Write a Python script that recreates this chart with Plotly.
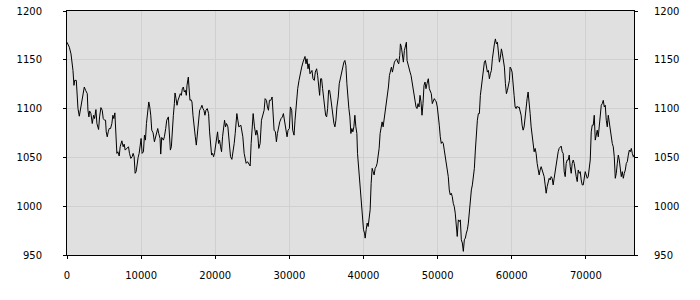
import plotly.graph_objects as go

x_vals = [0,135,314,538,673,807,942,1031,1256,1345,1480,1659,1838,2018,2152,2332,2511,2735,2825,2959,3049,3228,3408,3587,3722,3901,4036,4260,4394,4574,4753,4888,5067,5201,5291,5426,5560,5695,5874,6053,6188,6322,6457,6591,6726,6861,7040,7174,7399,7578,7712,7847,8071,8295,8430,8609,8789,8923,9058,9192,9327,9461,9596,9730,9865,9999,10134,10313,10448,10582,10717,10851,11031,11165,11300,11434,11614,11793,11927,12107,12241,12376,12555,12645,12779,13004,13138,13317,13452,13676,13811,13945,14080,14214,14349,14483,14573,14708,14842,14977,15156,15290,15425,15559,15694,15829,15963,16098,16187,16367,16456,16591,16725,16860,16994,17129,17308,17443,17577,17757,17892,18026,18205,18340,18474,18609,18743,18922,19102,19236,19371,19505,19640,19774,19909,20043,20178,20313,20447,20582,20716,20851,20985,21120,21254,21389,21523,21703,21882,22061,22241,22420,22555,22689,22779,22913,23048,23182,
23453,23588,23722,23901,24036,24170,24350,24485,24709,24843,24978,25112,25292,25471,25606,25740,25875,26054,26233,26413,26592,26727,26906,27041,27175,27310,27489,27668,27803,27937,28117,28251,28386,28520,28700,28879,29058,29193,29327,29507,29686,29821,30000,30135,30314,30448,30628,30762,30942,31121,31300,31480,31659,31838,31973,32107,32242,32377,32511,32646,32780,32915,33049,33184,33363,33498,33677,33811,33946,34080,34215,34349,34484,34619,34753,34888,35022,35157,35291,35426,35560,35695,35874,36009,36143,36278,36412,36591,36726,36905,37085,37219,37354,37488,37623,37757,37892,38026,38161,38296,38430,38565,38699,38834,38968,39103,39192,39327,39461,39596,39730,39865,39999,40134,40224,40358,40493,40627,40762,40896,41031,41165,41300,41434,41569,41703,41838,41972,42107,42241,42376,42510,42645,42779,42959,43093,43228,43362,43497,43631,43766,43901,44035,44170,44304,44483,44618,44752,44887,44977,45111,45246,45380,45515,45649,45784,45874,46008,46142,46277,46412,46546,46681,46815,46950,47084,47219,47353,47488,47622,47757,47892,48026,48161,48295,48430,48564,48743,48878,49012,49147,49281,49416,49550,49685,49819,49954,50088,50223,50357,50492,50627,50761,50896,51030,51165,51299,51434,51568,51703,51837,51972,52106,52241,52375,52510,52644,
52792,52927,53062,53197,53332,53467,53602,53737,53873,54008,54143,54278,54414,54549,54684,54819,54954,55090,55225,55360,55495,55630,55765,55901,56036,56171,56306,56441,56576,56711,56847,56982,57117,57252,57387,57522,57657,57793,57928,58063,58198,58333,58468,58603,58739,58874,59009,59144,59279,59414,59550,59685,59775,59910,60045,60180,60315,60451,60586,60721,60856,60991,61126,61261,61397,61532,61667,61802,61937,62072,62207,62343,62478,62613,62748,62883,63018,63153,63289,63424,63559,63694,63829,63964,64100,64235,64370,64505,64640,64775,64910,65046,65181,65316,65451,65586,65721,65856,65992,66127,66262,66397,66532,66667,66802,66938,67073,67208,67343,67478,67613,67749,67884,68019,68154,68289,68424,68560,68695,68830,68965,69100,69235,69370,69506,69641,69776,69911,70046,70181,70316,70452,70587,70722,70857,70992,71127,71262,71398,71533,71668,71803,71938,72073,72209,72344,72479,72614,72749,72884,73019,73155,73290,73425,73560,73695,73830,73966,74101,74236,74371,74506,74641,74776,74912,75047,75182,75317,75452,75587,75722,75858,75993,76128,76263,76398,76488]

y_vals = [1168.0,1166.3,1162.9,1156.1,1149.3,1139.1,1123.8,1128.9,1128.9,1110.2,1100.0,1092.2,1100.0,1105.1,1115.3,1122.1,1118.7,1115.3,1098.3,1091.5,1097.6,1094.9,1084.7,1093.2,1089.8,1099.0,1084.7,1078.6,1091.5,1101.0,1098.3,1089.8,1088.1,1088.1,1076.2,1071.1,1076.2,1079.6,1079.6,1084.7,1093.2,1089.8,1095.6,1071.1,1054.1,1055.8,1051.4,1060.9,1067.0,1060.9,1063.6,1057.5,1059.2,1060.9,1054.1,1049.0,1050.7,1054.1,1050.7,1033.7,1035.4,1043.9,1050.0,1054.1,1064.3,1069.4,1054.1,1055.8,1072.8,1067.7,1084.7,1094.9,1106.8,1101.7,1093.2,1077.9,1075.2,1066.0,1071.1,1074.5,1079.6,1074.5,1069.4,1053.4,1070.4,1067.7,1071.1,1079.6,1088.1,1091.5,1076.2,1057.5,1060.9,1081.3,1093.2,1105.1,1116.0,1110.2,1103.4,1108.5,1111.9,1115.3,1113.6,1120.4,1122.1,1117.0,1118.7,1113.6,1123.8,1132.3,1122.1,1108.5,1109.2,1106.8,1093.2,1081.3,1071.1,1062.6,1074.5,1083.0,1098.3,1100.0,1103.4,1100.0,1098.3,1093.2,1098.3,1100.0,1094.9,1076.2,1066.0,1052.4,1054.1,1050.7,1054.8,1062.6,1069.4,1076.2,1064.3,1067.7,1060.9,1055.8,1071.1,1079.6,1088.1,1081.3,1084.7,1081.3,1060.9,1050.7,1048.0,1055.8,1064.3,1074.5,1086.4,1094.9,1088.1,1081.3,
1083.0,1076.2,1071.1,1054.1,1049.0,1043.9,1045.6,1043.9,1041.2,1064.3,1088.1,1094.9,1081.3,1072.8,1077.9,1072.8,1059.2,1064.3,1088.1,1093.2,1098.3,1110.2,1108.5,1101.7,1098.3,1108.5,1108.5,1111.9,1098.3,1077.9,1076.2,1066.0,1074.5,1081.3,1086.4,1089.8,1091.5,1094.9,1088.1,1081.3,1071.1,1077.9,1079.6,1101.7,1098.3,1077.9,1072.8,1088.1,1108.5,1120.4,1128.9,1137.4,1142.5,1147.6,1151.0,1153.4,1145.9,1151.0,1140.8,1145.9,1135.7,1137.4,1139.1,1130.6,1128.9,1137.4,1140.8,1134.0,1123.8,1113.6,1130.6,1130.6,1120.4,1108.5,1101.7,1093.2,1091.5,1100.0,1118.7,1118.7,1111.9,1101.7,1093.2,1084.7,1081.3,1088.1,1101.7,1111.9,1125.5,1132.3,1139.1,1145.9,1147.6,1149.3,1144.2,1125.5,1108.5,1100.0,1091.5,1074.5,1079.6,1076.2,1081.3,1093.2,1081.3,1074.5,1054.1,1040.5,1037.1,1023.5,1006.5,989.5,975.9,972.4,967.3,975.9,982.7,979.2,989.5,996.3,1023.5,1038.8,1035.4,1032.0,1038.8,1040.5,1043.9,1050.7,1059.2,1074.5,1083.0,1086.4,1081.3,1088.1,1100.0,1108.5,1111.9,1122.1,1134.0,1139.1,1142.5,1137.4,1144.2,1147.6,1149.3,1151.0,1147.6,1145.9,1154.4,1166.3,1162.9,1156.1,1147.6,1159.5,1166.3,1168.0,1149.3,1144.2,1139.1,1137.4,1134.0,1127.2,1120.4,1111.9,1105.1,1101.7,1100.0,1105.1,1101.7,1113.6,1106.8,1093.2,1105.1,1123.8,1127.2,1120.4,1125.5,1130.6,1120.4,1117.0,1115.3,1105.1,1108.5,1110.2,1108.5,1106.8,1101.7,1094.9,1083.0,1071.1,1064.3,1066.0,1064.3,1057.5,1050.7,1042.2,1033.7,1030.3,1016.7,1011.6,1013.3,1009.9,1003.0,999.7,992.9,979.2,969.0,
986.0,984.3,986.0,965.6,962.3,953.7,965.6,967.3,972.4,975.9,982.7,992.9,1009.9,1016.7,1021.8,1030.3,1038.8,1057.5,1074.5,1088.1,1094.9,1094.9,1113.6,1122.1,1125.5,1139.1,1147.6,1149.3,1144.2,1137.4,1139.1,1130.6,1135.7,1139.1,1151.0,1161.2,1166.3,1171.4,1166.3,1168.0,1159.5,1147.6,1152.7,1161.2,1156.1,1151.0,1142.5,1125.5,1115.3,1118.7,1123.8,1128.9,1142.5,1140.8,1137.4,1118.7,1113.6,1101.7,1100.0,1102.4,1101.0,1101.7,1098.3,1093.2,1083.0,1077.9,1081.3,1093.2,1105.1,1110.2,1117.0,1108.5,1094.9,1081.3,1071.1,1064.3,1055.8,1059.2,1054.1,1043.9,1038.8,1032.0,1037.1,1040.5,1037.1,1033.7,1030.3,1021.8,1013.3,1020.1,1025.2,1028.6,1026.9,1030.3,1028.6,1021.8,1028.6,1035.4,1042.2,1052.4,1055.8,1059.2,1060.9,1061.6,1055.8,1054.1,1035.4,1030.3,1043.9,1047.3,1047.3,1052.4,1040.5,1033.7,1043.9,1047.3,1043.9,1035.4,1030.3,1025.2,1037.1,1033.7,1035.4,1026.9,1021.8,1021.8,1026.9,1035.4,1032.0,1028.6,1030.3,1037.1,1047.3,1076.2,1083.0,1083.0,1093.2,1067.7,1074.5,1077.9,1071.1,1083.0,1094.9,1103.4,1105.1,1108.5,1101.7,1103.4,1088.1,1081.3,1093.2,1084.7,1079.6,1071.1,1064.3,1060.9,1050.7,1028.6,1033.7,1043.9,1052.4,1047.3,1038.8,1030.3,1035.4,1028.6,1033.7,1037.1,1043.9,1045.6,1052.4,1057.5,1055.8,1059.2,1054.1,1050.7,1052.4]

x_ticks = [0, 10000, 20000, 30000, 40000, 50000, 60000, 70000]
y_ticks = [950, 1000, 1050, 1100, 1150, 1200]
x_range = [0, 76490]
y_range = [950, 1200]

font = dict(family="DejaVu Sans", size=10, color="#000000")

fig = go.Figure()
fig.add_trace(go.Scatter(x=x_vals, y=y_vals, mode="lines",
                         line=dict(color="#000000", width=1), hoverinfo="skip"))
fig.add_trace(go.Scatter(x=x_vals, y=y_vals, mode="lines", yaxis="y2",
                         line=dict(color="rgba(0,0,0,0)", width=0), hoverinfo="skip"))

axis_common = dict(showline=True, linecolor="#000000", linewidth=1,
                   ticks="outside", ticklen=3, tickcolor="#000000", tickwidth=1,
                   tickfont=font, zeroline=False, automargin=False)

fig.update_layout(
    width=700, height=300,
    margin=dict(l=67, r=66, t=11, b=45, autoexpand=False),
    paper_bgcolor="#ffffff", plot_bgcolor="#e0e0e0",
    showlegend=False,
    xaxis=dict(range=x_range, tickvals=x_ticks, tickformat="d",
               showgrid=True, gridcolor="#d0d0d0", gridwidth=1,
               mirror=True, ticklabelstandoff=8, **axis_common),
    yaxis=dict(range=y_range, tickvals=y_ticks,
               showgrid=True, gridcolor="#d0d0d0", gridwidth=1,
               mirror=True, ticklabelstandoff=19, **axis_common),
    yaxis2=dict(range=y_range, tickvals=y_ticks, overlaying="y", side="right",
                showgrid=False, ticklabelstandoff=14, **axis_common),
)

fig.write_html("out.html")
